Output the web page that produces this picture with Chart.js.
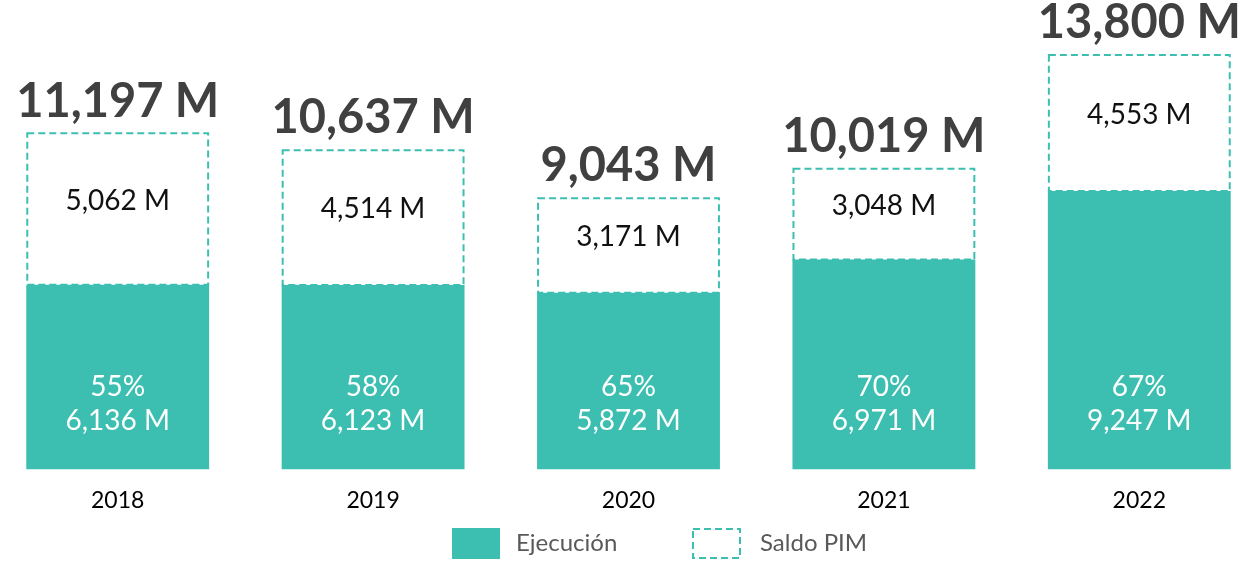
<!DOCTYPE html>
<html><head><meta charset="utf-8">
<script src="https://cdn.jsdelivr.net/npm/chart.js@4/dist/chart.umd.min.js"></script>
<style>html,body{margin:0;padding:0;background:#fff;overflow:hidden}#wrap{width:1277px;height:561px;margin-left:-10px}</style>
</head><body><div id="wrap"><canvas id="c"></canvas></div>
<script>
const categories = ['2018', '2019', '2020', '2021', '2022'];
const ejecucion = [6136, 6123, 5872, 6971, 9247];
const saldoPIM = [5062, 4514, 3171, 3048, 4553];
const totalPIM = [11197, 10637, 9043, 10019, 13800];
const seriesNames = ['Ejecución', 'Saldo PIM'];

const TEAL = '#3cbfb1';
const FONT = 'Lato, "Open Sans", sans-serif';
const OFF = 10; // canvas is shifted 10px left of the page
const fmt = v => v.toLocaleString('en-US') + ' M';

const labelPlugin = {
  id: 'labels',
  afterDatasetsDraw(chart) {
    const ctx = chart.ctx;
    const m0 = chart.getDatasetMeta(0), m1 = chart.getDatasetMeta(1);
    ctx.save();
    ctx.textAlign = 'center';
    ctx.textBaseline = 'middle';
    m1.data.forEach((b, i) => {
      ctx.save();
      ctx.strokeStyle = TEAL;
      ctx.lineWidth = 2;
      ctx.setLineDash([7, 4]);
      const l = b.x - b.width / 2, t = b.y, h = b.base - b.y;
      ctx.strokeRect(l + 1, t + 1, b.width - 2, h - 1);
      ctx.restore();
      ctx.fillStyle = '#111';
      ctx.font = '28px ' + FONT;
      ctx.fillText(fmt(saldoPIM[i]), b.x, (b.y + b.base) / 2 - 8);
      ctx.fillStyle = '#404040';
      ctx.font = 'bold 47px ' + FONT;
      ctx.fillText(fmt(totalPIM[i]), b.x, b.y - 31);
    });
    m0.data.forEach((b, i) => {
      ctx.fillStyle = '#ffffff';
      ctx.font = '28px ' + FONT;
      const pct = Math.round(ejecucion[i] / totalPIM[i] * 100) + '%';
      ctx.fillText(pct, b.x, b.base - 82);
      ctx.fillText(fmt(ejecucion[i]), b.x, b.base - 48);
    });
    ctx.restore();
  }
};

const legendPlugin = {
  id: 'customLegend',
  afterDraw(chart) {
    const ctx = chart.ctx;
    ctx.save();
    const y = 528, bh = 31, bw = 48;
    ctx.fillStyle = TEAL;
    ctx.fillRect(452 + OFF, y, bw, bh);
    ctx.strokeStyle = TEAL;
    ctx.lineWidth = 2;
    ctx.setLineDash([7, 4]);
    ctx.strokeRect(693 + OFF, y + 1, bw - 1, bh - 2);
    ctx.setLineDash([]);
    ctx.fillStyle = '#595959';
    ctx.font = '24px ' + FONT;
    ctx.textBaseline = 'middle';
    ctx.textAlign = 'left';
    ctx.fillText(chart.data.datasets[0].label, 516 + OFF, y + bh / 2);
    ctx.fillText(chart.data.datasets[1].label, 760 + OFF, y + bh / 2);
    ctx.restore();
  }
};

new Chart(document.getElementById('c'), {
  type: 'bar',
  data: {
    labels: categories,
    datasets: [
      { label: seriesNames[0], data: ejecucion, backgroundColor: TEAL, borderWidth: 0 },
      { label: seriesNames[1], data: saldoPIM, backgroundColor: 'rgba(255,255,255,0)', borderWidth: 0 }
    ]
  },
  options: {
    responsive: true,
    maintainAspectRatio: false,
    animation: false,
    layout: { padding: { left: 0, right: 0, top: 0, bottom: 38 } },
    datasets: { bar: { barPercentage: 1, categoryPercentage: 0.716 } },
    plugins: { legend: { display: false }, tooltip: { enabled: false } },
    scales: {
      x: {
        stacked: true,
        grid: { display: false },
        border: { display: false },
        ticks: { color: '#000', font: { family: FONT, size: 23 }, padding: 9 }
      },
      y: {
        stacked: true,
        display: false,
        min: 0,
        max: 15595
      }
    }
  },
  plugins: [labelPlugin, legendPlugin]
});
</script></body></html>
